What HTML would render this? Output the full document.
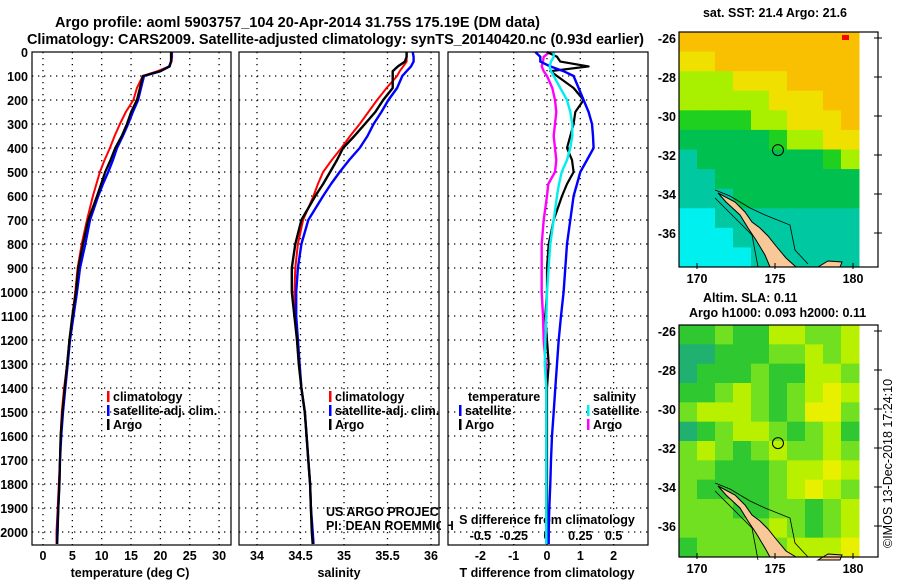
<!DOCTYPE html>
<html><head><meta charset="utf-8"><style>
html,body{margin:0;padding:0;background:#fff;}
svg{display:block;font-family:"Liberation Sans",sans-serif;}
.b{font-weight:bold;font-size:12.5px;}
</style></head><body>
<svg id="c" width="900" height="580" viewBox="0 0 900 580" xmlns="http://www.w3.org/2000/svg">
<text x="55" y="27" class="b" style="font-size:14.5px" textLength="485">Argo profile: aoml 5903757_104 20-Apr-2014 31.75S 175.19E (DM data)</text>
<text x="27" y="44" class="b" style="font-size:14.5px" textLength="617">Climatology: CARS2009. Satellite-adjusted climatology: synTS_20140420.nc (0.93d earlier)</text>
<text x="775" y="17" class="b" text-anchor="middle">sat. SST: 21.4 Argo: 21.6</text>
<text x="703" y="302" class="b">Altim. SLA: 0.11</text>
<text x="689" y="317" class="b">Argo h1000: 0.093 h2000: 0.11</text>
<text transform="translate(892,548) rotate(-90)" style="font-size:12.5px">©IMOS 13-Dec-2018 17:24:10</text>
<g id="g"></g>
</svg>
<script>
const depths=[0,20,40,60,80,100,150,200,250,300,350,400,450,500,550,600,700,800,900,1000,1100,1200,1300,1400,1500,1600,1700,1800,1900,2000,2050];
const tempArgo=[21.8,21.8,21.8,21.6,20,17,16.5,16,15,14.3,13.4,12.3,11.5,10.6,9.9,9.2,7.7,6.8,6.0,5.6,5.0,4.5,4.1,3.7,3.3,3.0,2.9,2.8,2.6,2.5,2.4];
const tempClim=[22,22,21.9,21.5,19.5,17,16,15.4,14.1,13.1,12.2,11.4,10.5,9.7,9.1,8.5,7.5,6.6,5.9,5.5,5.0,4.5,4.1,3.6,3.2,3.0,2.9,2.7,2.5,2.3,2.3];
const tempSat=[21.9,21.9,21.8,21.5,20,17.2,16.7,16.2,15.3,14.5,13.6,12.6,11.9,11.1,10.2,9.4,8.0,7.2,6.3,5.8,5.2,4.6,4.2,3.8,3.4,3.1,2.9,2.8,2.6,2.4,2.4];
const salArgo=[35.72,35.72,35.7,35.62,35.56,35.56,35.56,35.45,35.36,35.24,35.12,34.99,34.92,34.84,34.76,34.67,34.51,34.44,34.40,34.40,34.43,34.46,34.48,34.51,34.55,34.57,34.59,34.61,34.62,34.63,34.64];
const salClim=[35.72,35.72,35.72,35.68,35.64,35.61,35.49,35.38,35.28,35.18,35.07,34.97,34.86,34.76,34.70,34.65,34.53,34.47,34.44,34.43,34.44,34.46,34.48,34.51,34.55,34.57,34.59,34.61,34.62,34.64,34.65];
const salSat=[35.79,35.8,35.8,35.77,35.72,35.67,35.61,35.51,35.43,35.34,35.27,35.18,35.06,34.95,34.85,34.76,34.59,34.51,34.47,34.45,34.45,34.47,34.49,34.51,34.55,34.57,34.59,34.61,34.62,34.64,34.65];
const dtSat=[-0.35,-0.2,-0.2,0.1,0.5,0.8,0.95,1.1,1.25,1.35,1.38,1.4,1.2,1.0,0.9,0.8,0.7,0.6,0.55,0.5,0.42,0.35,0.3,0.25,0.2,0.15,0.12,0.1,0.07,0.05,0.05];
const dtArgo=[0,0.3,0.4,1.25,0.1,0.3,0.8,1.1,0.85,0.8,0.7,0.6,0.75,0.8,0.6,0.45,0.2,0.05,0,0,-0.05,0,0.05,0,0,0,0,0,0,0,0];
const dsSat=[0.05,0.05,0.03,0.02,0.03,0.05,0.1,0.15,0.175,0.19,0.19,0.175,0.15,0.11,0.09,0.075,0.05,0.025,0.012,0,-0.005,-0.012,-0.017,-0.005,-0.005,-0.005,-0.005,-0.005,-0.005,-0.005,-0.005];
const dsArgo=[0.02,-0.025,-0.03,-0.04,-0.025,0,0.04,0.06,0.07,0.06,0.05,0.06,0.07,0.06,0.01,0,-0.025,-0.04,-0.04,-0.04,-0.03,-0.025,-0.01,-0.005,-0.005,-0.005,-0.005,-0.005,-0.005,-0.005,-0.005];
const depthTicks=[0,100,200,300,400,500,600,700,800,900,1000,1100,1200,1300,1400,1500,1600,1700,1800,1900,2000];
const tempTicks=[0,5,10,15,20,25,30];
const salTicks=[34,34.5,35,35.5,36];
const salTickLabels=["34","34.5","35","35.5","36"];
const dtTicks=[-2,-1,0,1,2];
const dsTicks=[-0.5,-0.25,0,0.25,0.5];
const dsTickLabels=["-0.5","-0.25","0","0.25","0.5"];
const latTicks=[-26,-28,-30,-32,-34,-36];
const lonTicks=[170,175,180];
const sstGrid=[
[6,6,6,6,6,6,6,6,6,6],[5,5,6,6,6,6,6,6,6,6],[4,4,4,5,5,5,6,6,6,6],[4,4,4,4,4,5,5,5,6,6],
[3,3,3,3,4,4,5,5,5,6],[2,2,2,2,2,3,4,4,5,5],[1,2,2,2,2,2,2,2,3,4],[1,1,2,2,2,2,2,2,2,2],
[1,1,1,2,2,2,2,2,2,2],[0,0,1,1,1,1,1,1,1,1],[0,0,0,1,1,1,1,1,1,1],[0,0,0,0,1,1,1,1,1,1]];
const slaGrid=[
[1,1,2,1,1,3,3,2,2,3],[0,0,1,1,1,2,2,3,2,3],[0,1,1,1,2,1,1,3,3,2],[1,1,2,3,2,1,2,3,4,3],
[2,3,3,3,2,1,2,4,4,2],[0,1,2,3,3,2,1,2,3,1],[2,3,2,1,2,3,2,2,3,2],[2,2,1,1,1,2,3,3,4,3],
[2,1,1,1,1,2,3,4,3,2],[2,2,2,1,1,2,2,1,2,3],[2,2,2,2,2,3,2,1,2,3],[1,2,2,2,2,2,3,3,3,4]];
const sstColors=["#00f0f0","#00c8a0","#00c050","#20d020","#a8f000","#f0e000","#f8c000"];
const slaColors=["#20b070","#30c830","#70e020","#b8f000","#e8f000"];

const NS="http://www.w3.org/2000/svg";
const G=document.getElementById('g');
function mk(t,a,p){const e=document.createElementNS(NS,t);for(const k in a)e.setAttribute(k,a[k]);(p||G).appendChild(e);return e;}
const Y0=52,Y1=545;
const yD=d=>Y0+d*0.24;
const panels=[
 {x0:32,x1:231,sx:v=>43+v*5.87,name:'temperature'},
 {x0:239,x1:439,sx:v=>257+(v-34)*87,name:'salinity'},
 {x0:448,x1:648,sx:v=>547+v*33.3,name:'t-difference'}];
const sxS=v=>547+v*133.3;
function dotted(x1,y1,x2,y2,nm){const l=mk('line',{x1:x1,y1:y1,x2:x2,y2:y2,stroke:'#000','stroke-width':1.3,'stroke-dasharray':'1.3 4.7'});

}
function txt(x,y,s,anc,nm,cls){const t=mk('text',{x:x,y:y,'text-anchor':anc||'start',class:cls||'b'});t.textContent=s;

return t;}
function line(vals,sx,col,w,nm){const pts=vals.map((v,i)=>sx(v).toFixed(1)+','+yD(depths[i]).toFixed(1)).join(' ');
const p=mk('polyline',{points:pts,fill:'none',stroke:col,'stroke-width':w,'stroke-linejoin':'round'});

}
panels.forEach((P,pi)=>{
 depthTicks.forEach(d=>{if(d>0)dotted(P.x0,yD(d),P.x1,yD(d),'depth-gridline');});
 const xt=pi==0?tempTicks:pi==1?salTicks:dtTicks;
 xt.forEach((v,i)=>{dotted(P.sx(v),Y0,P.sx(v),Y1,'x-gridline');
  txt(P.sx(v),560,pi==1?salTickLabels[i]:String(v),'middle','x-tick-label');});
});
depthTicks.forEach(d=>txt(28,yD(d)+5,String(d),'end','depth-tick-label'));
txt(130,577,'temperature (deg C)','middle','x-axis-title-temperature');
txt(339,577,'salinity','middle','x-axis-title-salinity');
txt(547,577,'T difference from climatology','middle','x-axis-title-t-difference');
dsTicks.forEach((v,i)=>txt(sxS(v),540,dsTickLabels[i],'middle','s-diff-tick-label'));
txt(547,524,'S difference from climatology','middle','s-diff-axis-title');
line(tempClim,panels[0].sx,'#f00',2,'temp-climatology-line');
line(tempSat,panels[0].sx,'#00f',2.4,'temp-satellite-line');
line(tempArgo,panels[0].sx,'#000',2.2,'temp-argo-line');
line(salClim,panels[1].sx,'#f00',2,'sal-climatology-line');
line(salSat,panels[1].sx,'#00f',2.4,'sal-satellite-line');
line(salArgo,panels[1].sx,'#000',2.4,'sal-argo-line');
line(dsArgo,sxS,'#f0f',2.4,'s-diff-argo-line');
line(dtArgo,panels[2].sx,'#000',2.2,'t-diff-argo-line');
line(dtSat,panels[2].sx,'#00f',2.4,'t-diff-satellite-line');
line(dsSat,sxS,'#0ee',2.4,'s-diff-satellite-line');
function leg(x,y,col,s,nm){const r=mk('rect',{x:x,y:y-10,width:2.5,height:11,fill:col});


txt(x+6,y,s,'start',nm);}
[[107,'#f00','climatology'],[107,'#00f','satellite-adj. clim.'],[107,'#000','Argo']].forEach((e,i)=>leg(e[0],401+i*14,e[1],e[2],'legend-temp-'+i));
[[329,'#f00','climatology'],[329,'#00f','satellite-adj. clim.'],[329,'#000','Argo']].forEach((e,i)=>leg(e[0],401+i*14,e[1],e[2],'legend-sal-'+i));
txt(468,401,'temperature','start','legend-diff-temperature-header');
txt(593,401,'salinity','start','legend-diff-salinity-header');
leg(459,415,'#00f','satellite','legend-diff-t-satellite');
leg(459,429,'#000','Argo','legend-diff-t-argo');
leg(587,415,'#0ee','satellite','legend-diff-s-satellite');
leg(587,429,'#f0f','Argo','legend-diff-s-argo');
const cw=txt(326,516,'US ARGO PROJECT','start','credit-project','');cw.setAttribute('style','font-size:12.5px');
const cp=txt(326,530,'PI: DEAN ROEMMICH','start','credit-pi','');cp.setAttribute('style','font-size:12.5px');
mk('rect',{x:441,y:505,width:7,height:30,fill:'#fff'});
panels.forEach(P=>{const r=mk('rect',{x:P.x0,y:Y0,width:P.x1-P.x0,height:Y1-Y0,fill:'none',stroke:'#000','stroke-width':1.2});

});
const lonX=lon=>697+(lon-170)*15.6;
function drawMap(top,bot,grid,cols,nm){
 const latY=lat=>top+6+(-26-lat)*19.5;
 const x0=679,x1=859,nR=grid.length,nC=grid[0].length,ch=(bot-top)/nR,cwd=(x1-x0)/nC;
 grid.forEach((row,r)=>row.forEach((v,c)=>{const e=mk('rect',{x:x0+c*cwd,y:top+r*ch,width:cwd+0.5,height:ch+0.5,fill:cols[v]});
  
  }));
 const o=top-32;
 const land=[[718,193],[735,202],[745,212],[752,222],[760,228],[768,236],[776,246],[786,258],[796,267],[770,267],[765,255],[756,240],[748,228],[740,215],[726,202]];
 const lp=mk('polygon',{points:land.map(p=>p[0]+','+Math.min(p[1]+o,bot)).join(' '),fill:'#f8c898',stroke:'#000','stroke-width':1});
 
 
 const isl=mk('polygon',{points:`818,${267+o} 828,${261+o} 842,${262+o} 840,${267+o}`,fill:'#f8c898',stroke:'#000','stroke-width':1});
 
 
 const ct=mk('polyline',{points:`715,${190+o} 730,${196+o} 750,${208+o} 765,${215+o} 790,${225+o} 795,${250+o} 808,${264+o}`,fill:'none',stroke:'#000','stroke-width':0.8});
 
 
 const ct2=mk('polyline',{points:`715,${198+o} 735,${218+o} 752,${235+o} 758,${267+o}`,fill:'none',stroke:'#000','stroke-width':0.8});
 
 
 const fr=mk('rect',{x:679,y:top,width:199,height:bot-top,fill:'none',stroke:'#000','stroke-width':1.2});
 
 
 latTicks.forEach(l=>{txt(676,latY(l)+5,String(l),'end',nm+'-lat-label');
  mk('line',{x1:874,y1:latY(l),x2:882,y2:latY(l),stroke:'#000'});});
 lonTicks.forEach(l=>{txt(lonX(l),bot+16,String(l),'middle',nm+'-lon-label');
  mk('line',{x1:lonX(l),y1:bot-4,x2:lonX(l),y2:bot+2,stroke:'#000'});});
 const cc=mk('circle',{cx:lonX(175.19),cy:latY(-31.75),r:5.5,fill:'none',stroke:'#000','stroke-width':1});
 
 
}
drawMap(32,267,sstGrid,sstColors,'sst-map');
drawMap(325,557,slaGrid,slaColors,'sla-map');
const hs=mk('rect',{x:842,y:35,width:7,height:5,fill:'#f00'});


</script>
</body></html>
